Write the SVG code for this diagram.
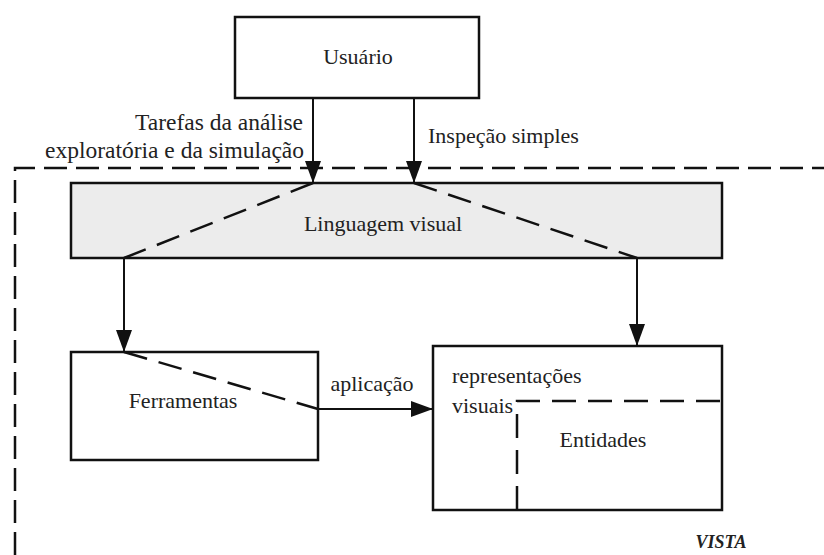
<svg xmlns="http://www.w3.org/2000/svg" width="824" height="555" viewBox="0 0 824 555">
<style>
text{font-family:'Liberation Serif','DejaVu Serif',serif;font-size:22px;fill:#222}
.box{fill:#fff;stroke:#111;stroke-width:2.5}
.gray{fill:#ececec}
.line{fill:none;stroke:#111;stroke-width:2}
.dash{fill:none;stroke:#111;stroke-width:2.5;stroke-dasharray:24 12}
.border{fill:none;stroke:#111;stroke-width:2.5;stroke-dasharray:23 9}
.mid{text-anchor:middle}
.end{text-anchor:end}
.big{font-size:23.5px}
</style>
<defs>
<marker id="arr" markerUnits="userSpaceOnUse" markerWidth="22" markerHeight="16" refX="22" refY="8" orient="auto">
<path d="M0,0 L22,8 L0,16 z" fill="#111"/>
</marker>
</defs>
<rect width="824" height="555" fill="#fff"/>
<g id="vista">
<path class="border" d="M15,555 V168 H824"/>
<text x="721" y="548" class="mid" style="font-style:italic;font-weight:bold;font-size:18px">VISTA</text>
</g>
<g id="usuario">
<rect class="box" x="235" y="17" width="244" height="81"/>
<text x="358" y="64" class="mid">Usuário</text>
</g>
<g id="linguagem">
<rect class="box gray" x="71" y="183" width="651" height="75"/>
<text x="383" y="231" class="mid">Linguagem visual</text>
</g>
<g id="ferramentas">
<rect class="box" x="71" y="352" width="247" height="108"/>
<text x="183" y="408" class="mid">Ferramentas</text>
</g>
<g id="representacoes">
<rect class="box" x="433" y="346" width="289" height="164"/>
<text x="452" y="383">representações</text>
<text x="452" y="413">visuais</text>
</g>
<g id="entidades">
<path class="dash" d="M517,510 V401 H722"/>
<text x="603" y="447" class="mid">Entidades</text>
</g>
<g id="connectors">
<line class="line" x1="313" y1="98" x2="313" y2="183" marker-end="url(#arr)"/>
<line class="line" x1="414" y1="98" x2="414" y2="183" marker-end="url(#arr)"/>
<line class="dash" x1="313" y1="183" x2="124" y2="258"/>
<line class="dash" x1="414" y1="183" x2="637" y2="258"/>
<line class="line" x1="124" y1="258" x2="124" y2="352" marker-end="url(#arr)"/>
<line class="line" x1="637" y1="258" x2="637" y2="346" marker-end="url(#arr)"/>
<line class="dash" x1="124" y1="352" x2="318" y2="409"/>
<line class="line" x1="318" y1="409" x2="433" y2="409" stroke-width="2.5" marker-end="url(#arr)"/>
<text x="303" y="130" class="end big">Tarefas da análise</text>
<text x="304" y="158" class="end big">exploratória e da simulação</text>
<text x="428" y="143">Inspeção simples</text>
<text x="372" y="391" class="mid">aplicação</text>
</g>
</svg>
